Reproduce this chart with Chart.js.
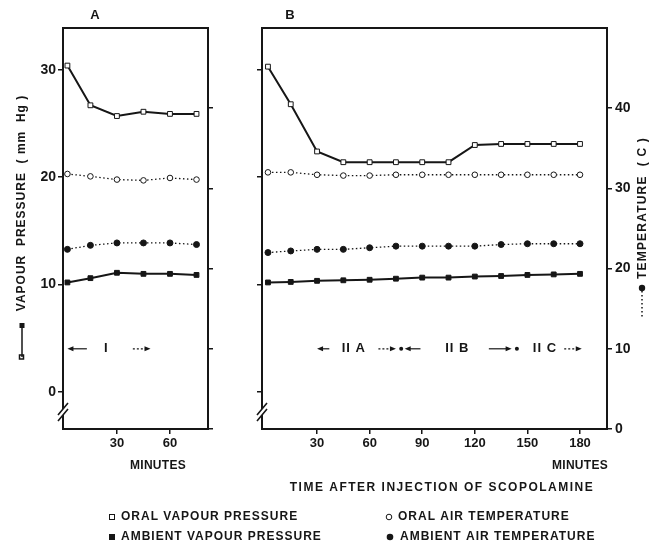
<!DOCTYPE html>
<html>
<head>
<meta charset="utf-8">
<script src="https://cdn.jsdelivr.net/npm/chart.js@4.4.1/dist/chart.umd.min.js"></script>
<style>
  html, body { margin: 0; padding: 0; background: #fff; }
  #wrap { position: relative; width: 659px; height: 546px; }
  canvas { position: absolute; left: 0; top: 0; }
</style>
</head>
<body>
<div id="wrap">
  <canvas id="chartA" width="659" height="546"></canvas>
  <canvas id="chartB" width="659" height="546"></canvas>
</div>
<script>
// panel A
const minutesA = [2, 15, 30, 45, 60, 75];
const oralVapourA = [30.4, 26.7, 25.7, 26.1, 25.9, 25.9];
const oralAirTempA = [31.8, 31.5, 31.1, 31.0, 31.3, 31.1];
const ambientVapourA = [10.2, 10.6, 11.1, 11.0, 11.0, 10.9];
const ambientAirTempA = [22.4, 22.9, 23.2, 23.2, 23.2, 23.0];

// panel B
const minutesB = [2, 15, 30, 45, 60, 75, 90, 105, 120, 135, 150, 165, 180];
const oralVapourB = [30.3, 26.8, 22.4, 21.4, 21.4, 21.4, 21.4, 21.4, 23.0, 23.1, 23.1, 23.1, 23.1];
const oralAirTempB = [32.0, 32.0, 31.7, 31.6, 31.6, 31.7, 31.7, 31.7, 31.7, 31.7, 31.7, 31.7, 31.7];
const ambientVapourB = [10.2, 10.25, 10.35, 10.4, 10.45, 10.55, 10.65, 10.65, 10.75, 10.8, 10.9, 10.95, 11.0];
const ambientAirTempB = [22.0, 22.2, 22.4, 22.4, 22.6, 22.8, 22.8, 22.8, 22.8, 23.0, 23.1, 23.1, 23.1];

const vapourTicks = [0, 10, 20, 30];
const tempTicks = [0, 10, 20, 30, 40];
const minuteTicksA = [30, 60];
const minuteTicksB = [30, 60, 90, 120, 150, 180];

const legendLabels = ['ORAL VAPOUR PRESSURE', 'ORAL AIR TEMPERATURE', 'AMBIENT VAPOUR PRESSURE', 'AMBIENT AIR TEMPERATURE'];

const ink = '#161616';
const FONT = "'Liberation Sans', Arial, sans-serif";
Chart.defaults.font.family = FONT;
Chart.defaults.color = ink;

const pts = (xs, ys) => xs.map((x, i) => ({ x, y: ys[i] }));

function datasets(xs, oralVp, oralT, ambVp, ambT) {
  return [
    { label: legendLabels[0], data: pts(xs, oralVp), yAxisID: 'vp',
      borderColor: ink, borderWidth: 2, pointStyle: 'rect', pointRadius: 3.4,
      pointBackgroundColor: '#fff', pointBorderColor: ink, pointBorderWidth: 1 },
    { label: legendLabels[1], data: pts(xs, oralT), yAxisID: 'temp',
      borderColor: ink, borderWidth: 1.3, borderDash: [1.5, 2.5], pointStyle: 'circle', pointRadius: 2.8,
      pointBackgroundColor: '#fff', pointBorderColor: ink, pointBorderWidth: 1 },
    { label: legendLabels[2], data: pts(xs, ambVp), yAxisID: 'vp',
      borderColor: ink, borderWidth: 2, pointStyle: 'rect', pointRadius: 3.4,
      pointBackgroundColor: ink, pointBorderColor: ink, pointBorderWidth: 1 },
    { label: legendLabels[3], data: pts(xs, ambT), yAxisID: 'temp',
      borderColor: ink, borderWidth: 1.3, borderDash: [1.5, 2.5], pointStyle: 'circle', pointRadius: 3,
      pointBackgroundColor: ink, pointBorderColor: ink, pointBorderWidth: 1 }
  ];
}

const tickGrid = len => ({ display: true, drawOnChartArea: false, drawTicks: true, tickLength: len, color: ink, lineWidth: 1.5 });
const fixTicks = vals => scale => { scale.ticks = vals.map(v => ({ value: v })); };

function panelOptions(p) {
  return {
    responsive: false,
    animation: false,
    layout: { padding: p.padding },
    plugins: { legend: { display: false }, tooltip: { enabled: false } },
    elements: { line: { tension: 0 } },
    scales: {
      x: {
        type: 'linear', position: 'bottom', min: p.xMin, max: p.xMax,
        afterBuildTicks: fixTicks(p.xTicks),
        afterFit: s => { s.height = 22; },
        ticks: { font: { size: 13, weight: 'bold' }, color: ink, padding: 2, maxRotation: 0 },
        grid: tickGrid(5), border: { display: false }
      },
      vp: {
        type: 'linear', position: 'left', min: -3.45, max: 33.9,
        afterBuildTicks: fixTicks(vapourTicks),
        afterFit: s => { s.width = p.vpWidth; },
        ticks: { display: p.vpLabels, font: { size: 14, weight: 'bold' }, color: ink, padding: 2 },
        grid: tickGrid(5), border: { display: false }
      },
      temp: {
        type: 'linear', position: 'right', min: 0, max: 50,
        afterBuildTicks: fixTicks(tempTicks),
        afterFit: s => { s.width = p.tempWidth; },
        ticks: { display: p.tempLabels, font: { size: 14, weight: 'bold' }, color: ink, padding: 3 },
        grid: tickGrid(5), border: { display: false }
      }
    }
  };
}

// frame, axis break and phase markers, drawn with the panel's own scales
function panelDecor(phases) {
  return {
    id: 'panelDecor',
    afterDatasetsDraw(chart) {
      const { ctx, chartArea: a, scales } = chart;
      const xs = scales.x, ty = scales.temp;
      ctx.save();
      ctx.strokeStyle = ink; ctx.fillStyle = ink;
      ctx.lineWidth = 2;
      ctx.strokeRect(a.left, a.top, a.right - a.left, a.bottom - a.top);

      // axis break "//"
      const bx = a.left, by = a.bottom - 17;
      ctx.fillStyle = '#fff';
      ctx.beginPath();
      ctx.moveTo(bx - 5, by + 3); ctx.lineTo(bx + 5, by - 9);
      ctx.lineTo(bx + 5, by - 3); ctx.lineTo(bx - 5, by + 9); ctx.closePath();
      ctx.fill();
      ctx.lineWidth = 1.6;
      ctx.beginPath();
      ctx.moveTo(bx - 5, by + 3); ctx.lineTo(bx + 5, by - 9);
      ctx.moveTo(bx - 5, by + 9); ctx.lineTo(bx + 5, by - 3);
      ctx.stroke();

      // phase markers
      const y = ty.getPixelForValue(10);
      ctx.fillStyle = ink;
      ctx.lineWidth = 1.2;
      phases.arrows.forEach(ar => {
        const x1 = xs.getPixelForValue(ar.from), x2 = xs.getPixelForValue(ar.to);
        const dir = Math.sign(x2 - x1);
        ctx.setLineDash(ar.dotted ? [2, 2] : []);
        ctx.beginPath(); ctx.moveTo(x1, y); ctx.lineTo(x2 - dir * 4, y); ctx.stroke();
        ctx.setLineDash([]);
        ctx.beginPath();
        ctx.moveTo(x2, y); ctx.lineTo(x2 - dir * 6, y - 2.5); ctx.lineTo(x2 - dir * 6, y + 2.5);
        ctx.closePath(); ctx.fill();
      });
      phases.dots.forEach(d => {
        ctx.beginPath(); ctx.arc(xs.getPixelForValue(d), y, 2, 0, Math.PI * 2); ctx.fill();
      });
      ctx.font = 'bold 13px ' + FONT;
      ctx.textAlign = 'center'; ctx.textBaseline = 'middle';
      ctx.letterSpacing = '1px';
      phases.texts.forEach(t => ctx.fillText(t.text, xs.getPixelForValue(t.at), y));
      ctx.restore();
    }
  };
}

const phasesA = {
  arrows: [{ from: 13, to: 2 }, { from: 39, to: 49, dotted: true }],
  dots: [],
  texts: [{ text: 'I', at: 24 }]
};
const phasesB = {
  arrows: [{ from: 37, to: 30 }, { from: 65, to: 75, dotted: true }, { from: 89, to: 80 },
           { from: 128, to: 141 }, { from: 171, to: 181, dotted: true }],
  dots: [78, 144],
  texts: [{ text: 'II A', at: 51 }, { text: 'II B', at: 110 }, { text: 'II C', at: 160 }]
};

function spaced(ctx, str, x, y, font, spacing, align) {
  ctx.font = font;
  ctx.letterSpacing = spacing + 'px';
  ctx.textAlign = align || 'left';
  ctx.fillText(str, x, y);
}

// titles, units and key around the two panels
const pageLabels = {
  id: 'pageLabels',
  afterDraw(chart) {
    const ctx = chart.ctx;
    ctx.save();
    ctx.fillStyle = ink; ctx.strokeStyle = ink;
    ctx.textBaseline = 'middle';
    spaced(ctx, 'A', 95, 15, 'bold 13px ' + FONT, 0, 'center');
    spaced(ctx, 'B', 290, 15, 'bold 13px ' + FONT, 0, 'center');
    spaced(ctx, 'MINUTES', 158, 466, 'bold 12px ' + FONT, 0.3, 'center');
    spaced(ctx, 'MINUTES', 580, 466, 'bold 12px ' + FONT, 0.3, 'center');
    spaced(ctx, 'TIME AFTER INJECTION OF SCOPOLAMINE', 442, 488, 'bold 12px ' + FONT, 1.5, 'center');

    // rotated axis titles
    ctx.save();
    ctx.translate(22, 203); ctx.rotate(-Math.PI / 2);
    spaced(ctx, 'VAPOUR  PRESSURE  ( mm  Hg )', 0, 0, 'bold 12px ' + FONT, 1, 'center');
    ctx.restore();
    ctx.save();
    ctx.translate(643, 208); ctx.rotate(-Math.PI / 2);
    spaced(ctx, 'TEMPERATURE  ( C )', 0, 0, 'bold 12px ' + FONT, 1.2, 'center');
    ctx.restore();

    // line keys below the axis titles
    ctx.lineWidth = 1.5;
    ctx.beginPath(); ctx.moveTo(22, 326); ctx.lineTo(22, 357); ctx.stroke();
    ctx.fillRect(19.5, 323, 5, 5);
    ctx.strokeRect(19.5, 355, 4, 4);
    ctx.setLineDash([1.5, 2.5]);
    ctx.beginPath(); ctx.moveTo(642, 291); ctx.lineTo(642, 318); ctx.stroke();
    ctx.setLineDash([]);
    ctx.beginPath(); ctx.arc(642, 288, 3.2, 0, Math.PI * 2); ctx.fill();

    // key
    const rows = [517, 537], cols = [112, 389];
    const lf = 'bold 12px ' + FONT;
    ctx.lineWidth = 1;
    ctx.strokeRect(cols[0] - 2.5, rows[0] - 2.5, 5, 5);
    spaced(ctx, legendLabels[0], cols[0] + 9, rows[0], lf, 1);
    ctx.beginPath(); ctx.arc(cols[1], rows[0], 2.8, 0, Math.PI * 2); ctx.stroke();
    spaced(ctx, legendLabels[1], cols[1] + 9, rows[0], lf, 1);
    ctx.fillRect(cols[0] - 3, rows[1] - 3, 6, 6);
    spaced(ctx, legendLabels[2], cols[0] + 9, rows[1], lf, 1);
    ctx.beginPath(); ctx.arc(cols[1] + 1, rows[1], 3.3, 0, Math.PI * 2); ctx.fill();
    spaced(ctx, legendLabels[3], cols[1] + 11, rows[1], lf, 1);
    ctx.restore();
  }
};

new Chart(document.getElementById('chartA'), {
  type: 'line',
  data: { datasets: datasets(minutesA, oralVapourA, oralAirTempA, ambientVapourA, ambientAirTempA) },
  options: panelOptions({ xMin: -0.5, xMax: 81.5, xTicks: minuteTicksA,
    vpWidth: 30, vpLabels: true, tempWidth: 6, tempLabels: false,
    padding: { left: 33, right: 445, top: 28, bottom: 95 } }),
  plugins: [panelDecor(phasesA)]
});

new Chart(document.getElementById('chartB'), {
  type: 'line',
  data: { datasets: datasets(minutesB, oralVapourB, oralAirTempB, ambientVapourB, ambientAirTempB) },
  options: panelOptions({ xMin: -1.4, xMax: 195.4, xTicks: minuteTicksB,
    vpWidth: 6, vpLabels: false, tempWidth: 30, tempLabels: true,
    padding: { left: 256, right: 22, top: 28, bottom: 95 } }),
  plugins: [panelDecor(phasesB), pageLabels]
});
</script>
</body>
</html>
